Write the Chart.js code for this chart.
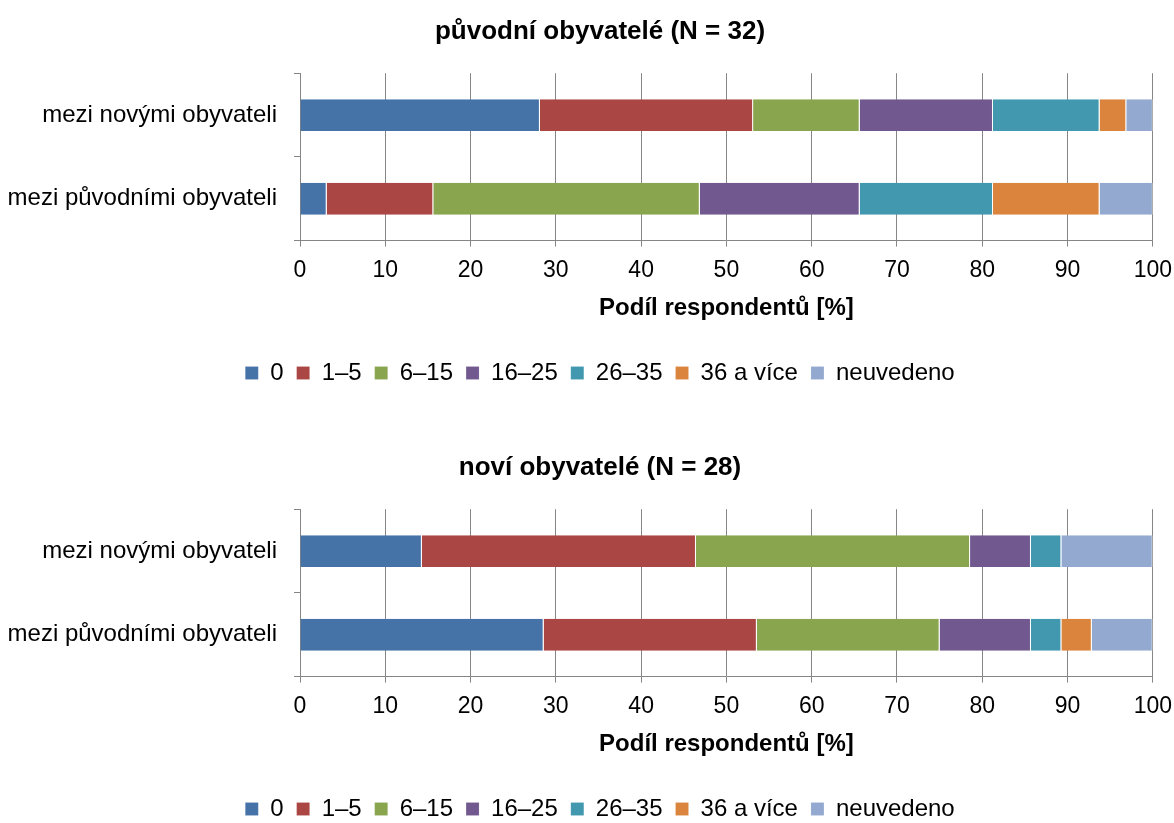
<!DOCTYPE html>
<html lang="cs">
<head>
<meta charset="utf-8">
<title>Podíl respondentů</title>
<script src="https://cdn.jsdelivr.net/npm/chart.js@4.4.1/dist/chart.umd.min.js"></script>
<style>
    html, body { margin: 0; padding: 0; background: #fff; overflow: hidden; }
    .graf { position: absolute; left: 0; width: 1182px; height: 436px; }
</style>
</head>
<body>
<div class="graf" style="top:0"><canvas id="grafPuvodni"></canvas></div>
<div class="graf" style="top:436px"><canvas id="grafNovi"></canvas></div>
<script>
const kategorie = ["mezi novými obyvateli", "mezi původními obyvateli"];
const skupiny = ["0", "1–5", "6–15", "16–25", "26–35", "36 a více", "neuvedeno"];
const titulky = ["původní obyvatelé (N = 32)", "noví obyvatelé (N = 28)"];
const popisOsy = "Podíl respondentů [%]";

// původní obyvatelé (N = 32), hodnoty v %
const puvodniMeziNovymi = [28.13, 25.0, 12.5, 15.63, 12.5, 3.13, 3.12];
const puvodniMeziPuvodnimi = [3.13, 12.5, 31.25, 18.75, 15.63, 12.5, 6.25];

// noví obyvatelé (N = 28), hodnoty v %
const noviMeziNovymi = [14.29, 32.14, 32.14, 7.14, 3.57, 0, 10.71];
const noviMeziPuvodnimi = [28.57, 25.0, 21.43, 10.71, 3.57, 3.57, 7.14];

const barvy = ["#4572A7", "#AA4643", "#89A54E", "#71588F", "#4198AF", "#DB843D", "#93A9CF"];

Chart.defaults.font.family = "'Liberation Sans', Arial, sans-serif";
Chart.defaults.color = "#000";

// popisky osy y jsou delší než osa, necháme je přesahovat doleva
const uvolniPopisky = {
    id: "uvolniPopisky",
    beforeDraw(chart) {
        chart.scales.y.left = 0;
    }
};

function vytvorGraf(idCanvasu, titulek, radekNovi, radekPuvodni) {
    const canvas = document.getElementById(idCanvasu);
    if (!canvas) return;

    const datasets = skupiny.map((nazev, i) => ({
        label: nazev,
        data: [radekNovi[i], radekPuvodni[i]],
        backgroundColor: barvy[i],
        borderColor: "rgba(255, 255, 255, 0.5)",
        borderWidth: { right: 1 }
    }));

    return new Chart(canvas.getContext("2d"), {
        type: "bar",
        data: { labels: kategorie, datasets },
        plugins: [uvolniPopisky],
        options: {
            indexAxis: "y",
            responsive: true,
            maintainAspectRatio: false,
            animation: false,
            categoryPercentage: 1,
            barPercentage: 0.38,
            layout: { padding: { left: 47, right: 29, top: 0, bottom: 41 } },
            plugins: {
                title: {
                    display: true,
                    text: titulek,
                    color: "#000",
                    font: { size: 26, weight: "bold" },
                    padding: { top: 16, bottom: 26 }
                },
                legend: {
                    position: "bottom",
                    labels: {
                        boxWidth: 13,
                        boxHeight: 13,
                        padding: 13,
                        color: "#000",
                        font: { size: 24 }
                    }
                },
                tooltip: { enabled: false }
            },
            scales: {
                x: {
                    stacked: true,
                    min: 0,
                    max: 100,
                    ticks: { stepSize: 10, color: "#000", font: { size: 23 }, padding: 10 },
                    grid: { color: "#868686", tickLength: 6 },
                    border: { color: "#868686" },
                    title: {
                        display: true,
                        text: popisOsy,
                        color: "#000",
                        font: { size: 24, weight: "bold" },
                        padding: { top: 0, bottom: 25 }
                    }
                },
                y: {
                    stacked: true,
                    ticks: { color: "#000", font: { size: 24 }, padding: 17 },
                    grid: { drawOnChartArea: false, color: "#868686", tickLength: 6 },
                    border: { color: "#868686" },
                    afterFit: scale => { scale.width = 253; }
                }
            }
        }
    });
}

vytvorGraf("grafPuvodni", titulky[0], puvodniMeziNovymi, puvodniMeziPuvodnimi);
vytvorGraf("grafNovi", titulky[1], noviMeziNovymi, noviMeziPuvodnimi);
</script>
</body>
</html>
